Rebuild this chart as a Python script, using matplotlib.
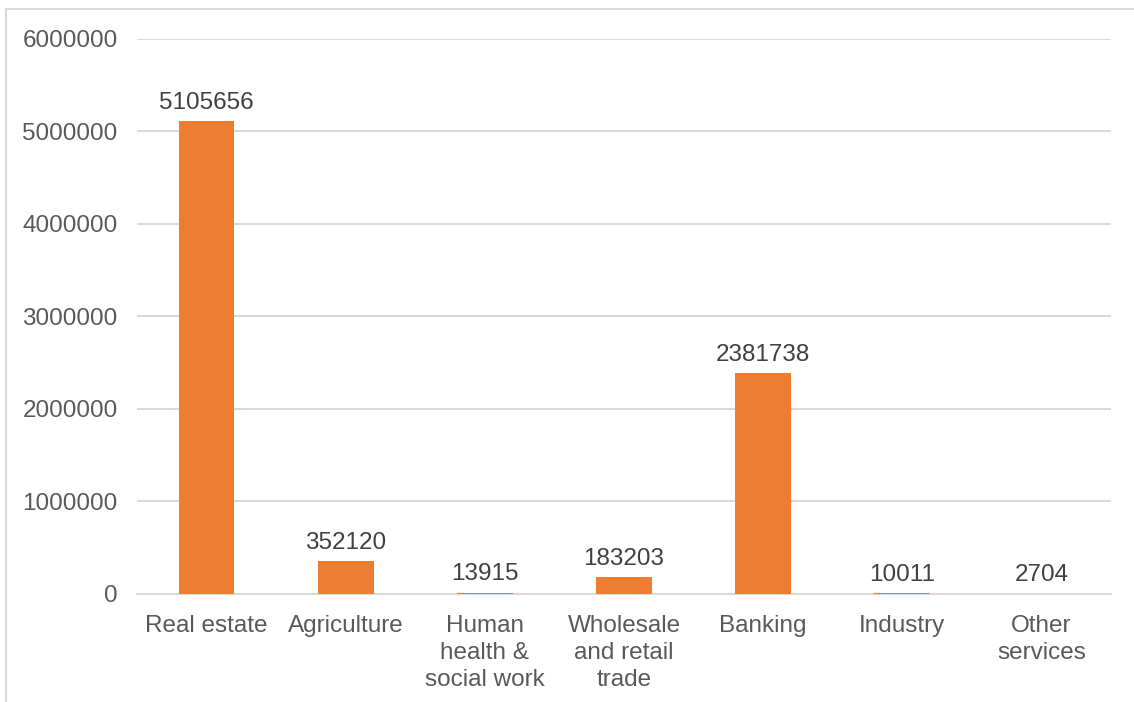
import matplotlib
matplotlib.use("Agg")
import matplotlib.pyplot as plt
from matplotlib.patches import Rectangle

categories = ["Real estate", "Agriculture", "Human\nhealth &\nsocial work",
              "Wholesale\nand retail\ntrade", "Banking", "Industry", "Other\nservices"]
values = [5105656, 352120, 13915, 183203, 2381738, 10011, 2704]
yticks = [0, 1000000, 2000000, 3000000, 4000000, 5000000, 6000000]

plt.rcParams['font.family'] = ['Liberation Sans', 'DejaVu Sans']

fig = plt.figure(figsize=(11.34, 7.02), dpi=100)
ax = fig.add_axes([137/1134, 1-594/702, (1111-137)/1134, (594-38.5)/702])

# outer chart frame (left and top visible)
fig.patches.append(Rectangle((6/1134, -0.1), 1.2, 1-9/702+0.1, transform=fig.transFigure,
                             fill=False, edgecolor='#D9D9D9', linewidth=1.5))

x = list(range(len(categories)))
ax.bar(x, values, width=0.40, color='#ED7D31', zorder=3)
ax.set_xlim(-0.5, len(categories)-0.5)
ax.set_ylim(0, 6000000)
ax.set_yticks(yticks)
ax.set_yticklabels([str(v) for v in yticks])
ax.set_xticks(x)
ax.set_xticklabels(categories, linespacing=1.29)
ax.tick_params(axis='y', length=0, pad=14, labelsize=17.5, labelcolor='#595959')
ax.tick_params(axis='x', length=0, pad=15, labelsize=17.5, labelcolor='#595959')
ax.grid(axis='y', color='#D9D9D9', linewidth=1.5, zorder=0)
for s in ['top', 'right', 'left']:
    ax.spines[s].set_visible(False)
ax.spines['bottom'].set_color('#D9D9D9')
ax.spines['bottom'].set_linewidth(1.5)

for xi, v in zip(x, values):
    ax.annotate(str(v), (xi, v), xytext=(0, 9), textcoords='offset points',
                ha='center', va='baseline', fontsize=17.5, color='#404040')

fig.savefig("out.png", dpi=100)
